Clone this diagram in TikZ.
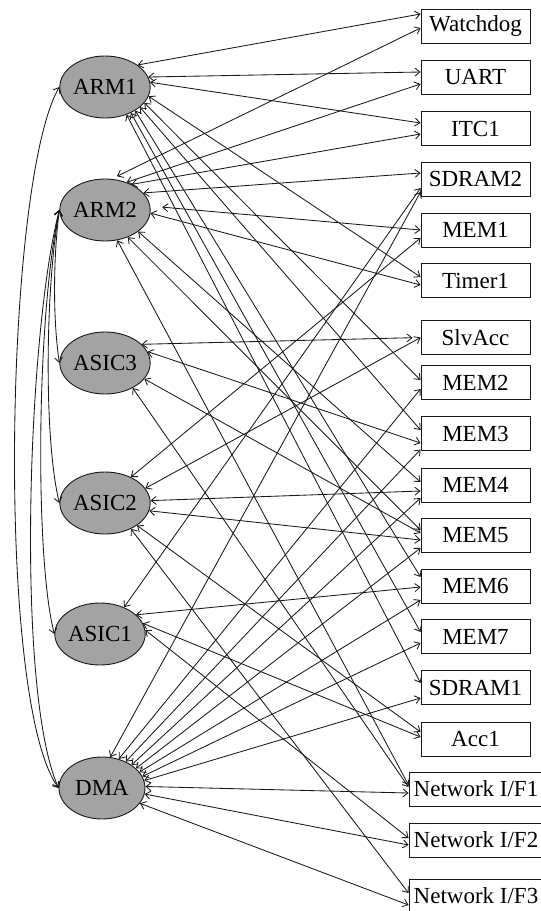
\documentclass[tikz,border=0pt]{standalone}
\usepackage{fontspec}
\setmainfont{Liberation Serif}
\usetikzlibrary{shapes.geometric,arrows.meta}
\definecolor{ellfill}{RGB}{163,163,163}
\definecolor{inkline}{RGB}{25,25,25}
\begin{document}
\begin{tikzpicture}[x=1pt,y=1pt,
  master/.style={ellipse, draw=inkline, fill=ellfill, minimum width=86pt,
    minimum height=62pt, inner sep=0pt, line width=0.9pt,
    font=\fontsize{23}{27}\selectfont},
  slave/.style={rectangle, draw=inkline, minimum width=109pt, minimum height=34pt,
    inner sep=0pt, line width=0.9pt, font=\fontsize{23}{27}\selectfont},
  nif/.style={slave, minimum width=134pt},
  link/.style={{Straight Barb[length=5pt,width=8pt]}-{Straight Barb[length=5pt,width=8pt]},
    draw=inkline, line width=0.85pt},
]
\useasboundingbox (0,0) rectangle (541,-911);

% masters
\node[master] (ARM1)  at (105,-87)  {ARM1};
\node[master] (ARM2)  at (105,-210) {ARM2};
\node[master] (ASIC3) at (105,-363) {ASIC3};
\node[master] (ASIC2) at (105,-503) {ASIC2};
\node[master] (ASIC1) at (100,-634) {ASIC1};
\node[master] (DMA)   at (102,-788) {DMA};

% slaves
\node[slave] (WD)     at (475.5,-26)    {Watchdog};
\node[slave] (UART)   at (475.5,-77)    {UART};
\node[slave] (ITC1)   at (475.5,-128.5) {ITC1};
\node[slave] (SDRAM2) at (475.5,-179)   {SDRAM2};
\node[slave] (MEM1)   at (475.5,-230)   {MEM1};
\node[slave] (Timer1) at (475.5,-280.5) {Timer1};
\node[slave] (SlvAcc) at (475.5,-337.5) {SlvAcc};
\node[slave] (MEM2)   at (475.5,-382.5) {MEM2};
\node[slave] (MEM3)   at (475.5,-433.5) {MEM3};
\node[slave] (MEM4)   at (475.5,-485)   {MEM4};
\node[slave] (MEM5)   at (475.5,-535)   {MEM5};
\node[slave] (MEM6)   at (475.5,-586)   {MEM6};
\node[slave] (MEM7)   at (475.5,-636.5) {MEM7};
\node[slave] (SDRAM1) at (475.5,-687.5) {SDRAM1};
\node[slave] (Acc1)   at (475.5,-739)   {Acc1};
\node[nif]   (NI1)    at (476,-789)     {Network I/F1};
\node[nif]   (NI2)    at (476,-840)     {Network I/F2};
\node[nif]   (NI3)    at (476,-896)     {Network I/F3};

% ARM1 links
\draw[link] (ARM1.34)  -- ([yshift=12pt]WD.west);
\draw[link] (ARM1.13)  -- ([yshift=5pt]UART.west);
\draw[link] (ARM1.6)   -- ([yshift=5.5pt]ITC1.west);
\draw[link] (ARM1.-12) -- ([yshift=3.5pt]Timer1.west);
\draw[link] (ARM1.-22) -- ([yshift=2.5pt]MEM2.west);
\draw[link] (ARM1.-30) -- ([yshift=3.5pt]MEM3.west);
\draw[link] (ARM1.-38) -- ([yshift=9pt]MEM6.west);
\draw[link] (ARM1.-45) -- ([yshift=4.5pt]MEM7.west);
\draw[link] (ARM1.-52) -- ([yshift=4.5pt]SDRAM1.west);

% ARM2 links
\draw[link, shorten <=6pt] (ARM2.78) -- ([yshift=-2pt]WD.west);
\draw[link] (ARM2.52)  -- ([yshift=-7pt]UART.west);
\draw[link] (ARM2.44)  -- ([yshift=-5.5pt]ITC1.west);
\draw[link] (ARM2.24)  -- ([yshift=6pt]SDRAM2.west);
\draw[link, shorten <=12pt] (ARM2.5) -- (MEM1.west);
\draw[link] (ARM2.-4)  -- ([yshift=-4.5pt]Timer1.west);
\draw[link] (ARM2.-33) -- ([yshift=3pt]MEM4.west);
\draw[link] (ARM2.-50) -- ([yshift=5pt]MEM5.west);
\draw[link] (ARM2.-68) -- ([yshift=4pt]NI1.west);

% ASIC3 links
\draw[link, shorten >=8pt] (ASIC3.27) -- (SlvAcc.west);
\draw[link] (ASIC3.15)  -- ([yshift=-9.5pt]MEM3.west);
\draw[link] (ASIC3.-22) -- ([yshift=2pt]MEM5.west);
\draw[link] (ASIC3.-42) -- ([yshift=2pt]NI1.west);

% ASIC2 links
\draw[link] (ASIC2.45)  -- ([yshift=-8pt]MEM1.west);
\draw[link] (ASIC2.20)  -- (SlvAcc.west);
\draw[link] (ASIC2.3)   -- ([yshift=-6pt]MEM4.west);
\draw[link] (ASIC2.-10) -- ([yshift=-5pt]MEM5.west);
\draw[link] (ASIC2.-35) -- ([yshift=7pt]Acc1.west);
\draw[link] (ASIC2.-45) -- ([yshift=3pt]NI3.west);

% ASIC1 links
\draw[link] (ASIC1.48) -- ([yshift=-9pt]SDRAM2.west);
\draw[link] (ASIC1.28) -- ([yshift=-1pt]MEM6.west);
\draw[link] (ASIC1.14) -- ([yshift=2pt]Acc1.west);
\draw[link] (ASIC1.5)  -- ([yshift=2pt]NI2.west);

% DMA links
\draw[link] (DMA.75)  -- ([yshift=-13pt]SDRAM2.west);
\draw[link] (DMA.60)  -- ([yshift=-6.5pt]MEM2.west);
\draw[link] (DMA.48)  -- ([yshift=-16pt]MEM3.west);
\draw[link] (DMA.38)  -- ([yshift=-13pt]MEM4.west);
\draw[link] (DMA.30)  -- ([yshift=-13pt]MEM5.west);
\draw[link] (DMA.23)  -- ([yshift=-14pt]MEM6.west);
\draw[link] (DMA.16)  -- ([yshift=-6.5pt]MEM7.west);
\draw[link] (DMA.10)  -- ([yshift=-10.5pt]SDRAM1.west);
\draw[link] (DMA.2)   -- ([yshift=-4pt]NI1.west);
\draw[link] (DMA.-8)  -- ([yshift=-5pt]NI2.west);
\draw[link] (DMA.-22) -- ([yshift=-9pt]NI3.west);

% master-to-master links along the left side
\draw[link] (ARM1.west) .. controls (5,-180) and (-5,-700) .. (DMA.west);
\draw[link] (ARM2.west) .. controls (28,-330) and (15,-690) .. (DMA.west);
\draw[link] (ARM2.west) .. controls (36,-320) and (35,-560) .. (ASIC1.west);
\draw[link] (ARM2.west) .. controls (45,-290) and (44,-440) .. (ASIC2.west);
\draw[link] (ARM2.west) .. controls (53,-260) and (53,-320) .. (ASIC3.west);
\end{tikzpicture}
\end{document}
